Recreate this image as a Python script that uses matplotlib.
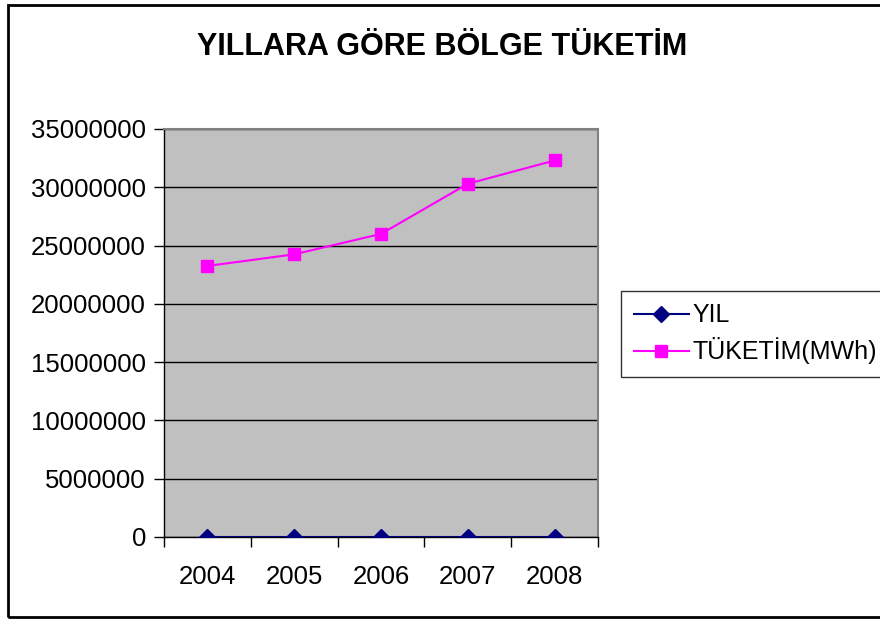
import numpy as np
import matplotlib.pyplot as plt
from matplotlib.patches import Rectangle

years = ['2004', '2005', '2006', '2007', '2008']
yil = [2004, 2005, 2006, 2007, 2008]
tuketim = [23250000, 24250000, 26000000, 30300000, 32300000]

plt.rcParams['font.family'] = ['Liberation Sans', 'DejaVu Sans']

fig = plt.figure(figsize=(8.8, 6.19), dpi=100)
ax = fig.add_axes([164 / 880, 82 / 619, 434 / 880, 408 / 619])
ax.set_facecolor('#C0C0C0')

x = np.arange(len(years))
ax.plot(x, yil, color='#000080', marker='D', markersize=8, lw=1.5,
        label='YIL', zorder=3)
ax.plot(x, tuketim, color='#FF00FF', marker='s', markersize=8, lw=1.5,
        label='TÜKETİM(MWh)', zorder=3)

ax.set_xlim(-0.5, 4.5)
ax.set_ylim(0, 35000000)
ax.set_yticks(np.arange(0, 35000001, 5000000))
ax.set_yticklabels([str(v) for v in range(0, 35000001, 5000000)])
ax.yaxis.grid(True, color='black', lw=1)
ax.set_axisbelow(True)

ax.set_xticks(np.arange(-0.5, 5, 1))
ax.set_xticklabels([])
ax.set_xticks(x, minor=True)
ax.set_xticklabels(years, minor=True)
ax.tick_params(axis='x', which='minor', length=0, pad=20, labelsize=18.5)
ax.tick_params(axis='x', which='major', length=7, direction='out', width=1)
ax.tick_params(axis='y', length=7, direction='out', width=1, labelsize=18.5,
               pad=6)

for s in ['top', 'right']:
    ax.spines[s].set_color('#808080')
    ax.spines[s].set_linewidth(1.5)
for s in ['left', 'bottom']:
    ax.spines[s].set_color('black')
    ax.spines[s].set_linewidth(1)

fig.text(442 / 880, 1 - 47 / 619, 'YILLARA GÖRE BÖLGE TÜKETİM',
         ha='center', va='center', fontsize=22, fontweight='bold')

leg = fig.legend(loc='upper left', bbox_to_anchor=(621 / 880, 1 - 291 / 619),
                 fontsize=18, frameon=True, fancybox=False, edgecolor='black',
                 handlelength=2.2, handletextpad=0.15, borderpad=0.5,
                 labelspacing=0.4, borderaxespad=0)
leg.get_frame().set_linewidth(1)

fig.patches.append(Rectangle((8 / 880, 2 / 619), 1.0, 612 / 619,
                             transform=fig.transFigure, fill=False,
                             edgecolor='black', lw=2))

plt.savefig('out.png', dpi=100)
